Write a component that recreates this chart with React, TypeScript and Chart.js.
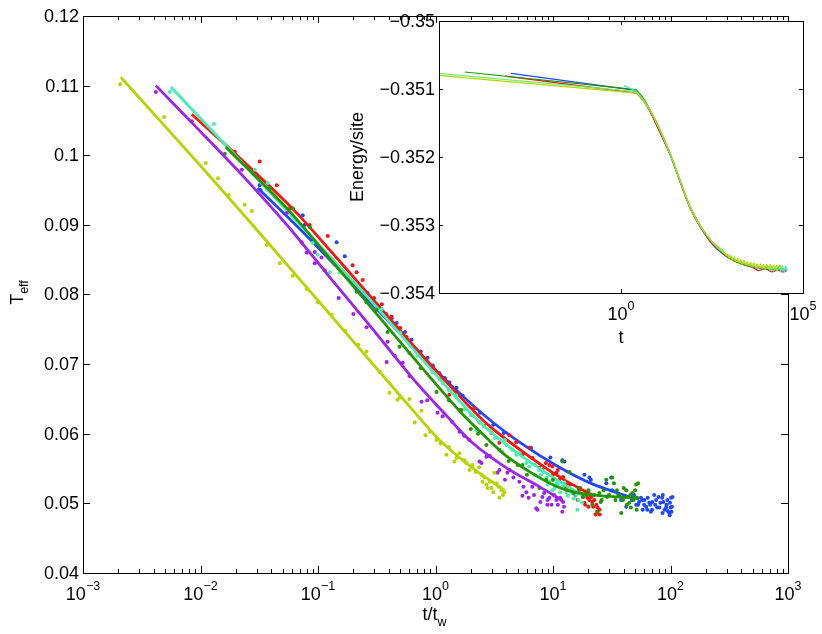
import { useEffect, useRef } from "react"
import { Chart, registerables } from "chart.js"
import type { Plugin } from "chart.js"

Chart.register(...registerables)

const FONT = '"Liberation Sans", Arial, Helvetica, sans-serif'

// ---- main plot: T_eff vs t/t_w (dots = measurements, thick lines = fits) ----
const yellowDots: [number, number][] = [
  [0.00207, 0.1102], [0.0049, 0.1055], [0.0111, 0.0989], [0.0141, 0.0967], [0.0174, 0.0943],
  [0.0238, 0.0929], [0.0273, 0.092], [0.0366, 0.0871], [0.0473, 0.0845], [0.061, 0.0827],
  [0.08, 0.0808], [0.1, 0.0789], [0.1306, 0.0771], [0.17, 0.0748], [0.22, 0.0728],
  [0.259, 0.0718], [0.334, 0.0689], [0.406, 0.0659], [0.475, 0.0649], [0.5, 0.0652],
  [0.601, 0.065], [0.664, 0.0616], [0.76, 0.0633], [0.822, 0.0598], [0.9, 0.0603],
  [1.02, 0.0591], [1.1, 0.0586], [1.24, 0.057], [1.3, 0.0581], [1.45, 0.056],
  [1.51, 0.0565], [1.6, 0.0572], [1.76, 0.0562], [1.83, 0.0558], [1.95, 0.0548],
  [2.06, 0.0555], [2.2, 0.0545], [2.35, 0.0552], [2.46, 0.0541], [2.51, 0.0531],
  [2.6, 0.0537], [2.71, 0.0527], [2.77, 0.0522], [2.9, 0.0531], [2.99, 0.0522],
  [3.1, 0.0516], [3.17, 0.0544], [3.3, 0.0529], [3.45, 0.0524], [3.5, 0.0508],
  [3.64, 0.0519], [3.75, 0.0512], [3.86, 0.0516],
]
const yellowFit: [number, number][] = [
  [0.0021, 0.1112], [0.00986, 0.0986], [0.0301, 0.0893], [0.1256, 0.0772], [0.334, 0.0689],
  [0.703, 0.0626], [1.08, 0.0591], [2.06, 0.0551], [3.86, 0.0519],
]

const purpleDots: [number, number][] = [
  [0.00417, 0.1091], [0.0225, 0.0979], [0.0542, 0.0917], [0.0726, 0.0875], [0.0801, 0.086],
  [0.0938, 0.0845], [0.114, 0.0835], [0.0938, 0.0861], [0.107, 0.0853], [0.15, 0.0795],
  [0.2, 0.0772], [0.259, 0.0753], [0.384, 0.0703], [0.391, 0.0732], [0.45, 0.0712],
  [0.525, 0.0702], [0.6, 0.0683], [0.76, 0.0646], [0.85, 0.0648], [1.04, 0.063],
  [1.15, 0.0625], [1.39, 0.0617], [1.6, 0.0603], [1.75, 0.0597], [1.94, 0.0591],
  [2.37, 0.056], [2.46, 0.0558], [2.71, 0.0567], [2.9, 0.0568], [3.37, 0.0544],
  [3.5, 0.0548], [3.9, 0.0534], [4.09, 0.0544], [4.26, 0.0548], [4.6, 0.0537],
  [5.17, 0.0531], [5.49, 0.0511], [5.6, 0.0524], [5.93, 0.0516], [6.2, 0.0508],
  [6.67, 0.0524], [6.9, 0.0512], [7.21, 0.0493], [7.36, 0.0491], [7.8, 0.0502],
  [8.12, 0.0509], [8.4, 0.0515], [8.95, 0.0498], [9.0, 0.0505], [9.31, 0.0508],
  [9.7, 0.0498], [10.2, 0.0512], [10.7, 0.0505], [11.0, 0.0498], [11.5, 0.0508],
  [11.8, 0.0505], [12.0, 0.0488], [12.2, 0.0502], [12.4, 0.0495],
]
const purpleFit: [number, number][] = [
  [0.00417, 0.11], [0.00986, 0.1035], [0.0216, 0.0975], [0.0412, 0.0923], [0.061, 0.089],
  [0.1256, 0.0825], [0.259, 0.0761], [0.637, 0.068], [1.24, 0.0626], [2.06, 0.0587],
  [4.01, 0.0551], [7.65, 0.0524], [12.0, 0.0504],
]

const aquaDots: [number, number][] = [
  [0.00548, 0.1091], [0.013, 0.1045], [0.029, 0.0979], [0.0373, 0.096], [0.0542, 0.0924],
  [0.0901, 0.0874], [0.0993, 0.0857], [0.126, 0.0832], [0.144, 0.084], [0.153, 0.0832],
  [0.35, 0.0779], [0.5, 0.0745], [0.7, 0.0712], [0.95, 0.0688], [1.15, 0.0673],
  [1.3, 0.0662], [1.5, 0.0655], [1.8, 0.0635], [2.0, 0.0627], [2.23, 0.0605],
  [2.37, 0.0617], [2.6, 0.061], [2.88, 0.0605], [3.2, 0.0594], [3.71, 0.0574],
  [3.9, 0.0591], [4.01, 0.0584], [4.5, 0.0577], [4.88, 0.057], [5.2, 0.0572],
  [5.93, 0.0558], [6.3, 0.0553], [6.94, 0.0541], [7.0, 0.0556], [7.65, 0.0548],
  [7.9, 0.0541], [8.3, 0.0545], [8.77, 0.0537], [9.0, 0.0527], [9.31, 0.0531],
  [9.87, 0.0519], [10.0, 0.0534], [10.3, 0.0522], [10.7, 0.0529], [11.0, 0.0527],
  [11.5, 0.0516], [12.0, 0.0524], [12.5, 0.053], [13.0, 0.0516], [13.4, 0.0511],
  [13.8, 0.0519], [14.5, 0.0515], [15.0, 0.0507], [15.8, 0.0512], [16.1, 0.0491],
  [16.5, 0.0505], [17.0, 0.0515], [17.7, 0.0501],
]
const aquaFit: [number, number][] = [
  [0.0056, 0.1098], [0.0216, 0.0993], [0.0741, 0.0896], [0.259, 0.0798], [0.889, 0.0695],
  [2.37, 0.0617], [5.49, 0.0567], [13.0, 0.0525], [17.7, 0.0512],
]

const greenDots: [number, number][] = [
  [0.0161, 0.1002], [0.0388, 0.0953], [0.061, 0.0924], [0.085, 0.0897], [0.213, 0.0804],
  [0.259, 0.0789], [0.315, 0.0778], [0.391, 0.0746], [0.494, 0.0725], [0.6, 0.0716],
  [0.75, 0.0694], [1.02, 0.066], [1.3, 0.0648], [1.66, 0.0634], [2.0, 0.0607],
  [2.3, 0.06], [2.71, 0.0584], [3.5, 0.0577], [4.2, 0.0561], [5.0, 0.0555],
  [5.5, 0.0555], [6.0, 0.0541], [7.65, 0.0522], [8.77, 0.0534], [10.0, 0.0534],
  [12.0, 0.056], [13.8, 0.0545], [15.0, 0.0515], [16.5, 0.0522], [18.0, 0.0509],
  [19.2, 0.0512], [20.0, 0.0519], [21.6, 0.0498], [22.5, 0.0512], [23.8, 0.0488],
  [24.8, 0.0515], [25.5, 0.0502], [26.0, 0.0505], [27.0, 0.0519], [28.4, 0.0534],
  [28.9, 0.0509], [30.0, 0.0512], [31.9, 0.0537], [33.0, 0.0529], [34.0, 0.0505],
  [35.0, 0.0519], [36.5, 0.0512], [38.1, 0.0486], [39.5, 0.0505], [40.0, 0.0522],
  [42.0, 0.0519], [42.5, 0.0498], [44.6, 0.0501], [45.5, 0.0512], [46.0, 0.0494],
  [47.2, 0.0515], [48.5, 0.0505], [50.0, 0.0519], [51.0, 0.0527], [51.5, 0.0491],
  [52.0, 0.0508], [53.0, 0.0529],
]
const greenFit: [number, number][] = [
  [0.0164, 0.1012], [0.0542, 0.0924], [0.1256, 0.0852], [0.275, 0.0784], [0.889, 0.0682],
  [1.7, 0.0628], [2.88, 0.059], [4.01, 0.0568], [7.65, 0.0537], [13.0, 0.0519],
  [24.8, 0.0511], [51.0, 0.0508],
]

const redDots: [number, number][] = [
  [0.00843, 0.1049], [0.0196, 0.1005], [0.0319, 0.0991], [0.0446, 0.0957], [0.0574, 0.0924],
  [0.085, 0.09], [0.121, 0.0884], [0.197, 0.0842], [0.213, 0.0832], [0.24, 0.0821],
  [0.3, 0.0795], [0.35, 0.0786], [0.423, 0.0768], [0.5, 0.0752], [0.567, 0.0739],
  [0.69, 0.0718], [0.8, 0.0708], [0.95, 0.0695], [1.1, 0.0678], [1.31, 0.0656],
  [1.6, 0.0634], [1.8, 0.0636], [2.14, 0.0637], [2.37, 0.0616], [2.6, 0.0611],
  [3.0, 0.0601], [3.5, 0.0587], [4.26, 0.0598], [4.88, 0.0588], [5.5, 0.057],
  [6.3, 0.058], [6.67, 0.0565], [7.65, 0.0551], [8.12, 0.0548], [8.7, 0.0558],
  [9.31, 0.0555], [9.87, 0.0553], [10.0, 0.0541], [10.7, 0.0544], [11.0, 0.0548],
  [11.3, 0.0534], [12.2, 0.0538], [12.9, 0.0524], [13.2, 0.0529], [13.5, 0.0522],
  [14.0, 0.0527], [14.6, 0.0519], [15.5, 0.0512], [16.2, 0.0505], [16.7, 0.0519],
  [17.0, 0.0522], [17.7, 0.0512], [18.0, 0.0509], [18.5, 0.0501], [18.8, 0.0498],
  [19.2, 0.0516], [19.6, 0.0508], [20.0, 0.0495], [20.4, 0.0505], [20.8, 0.0512],
  [21.2, 0.0509], [21.6, 0.0502], [22.0, 0.0495], [22.5, 0.0505], [23.0, 0.0484],
  [23.4, 0.0498], [23.8, 0.0488], [24.0, 0.0494], [24.8, 0.0491], [25.0, 0.0484],
]
const redFit: [number, number][] = [
  [0.00843, 0.1059], [0.0216, 0.0996], [0.061, 0.0923], [0.1256, 0.0864], [0.226, 0.0815],
  [0.601, 0.0733], [1.6, 0.0654], [2.88, 0.0611], [7.65, 0.0557], [13.0, 0.0532],
  [21.6, 0.0512],
]

const blueDots: [number, number][] = [
  [0.0319, 0.0957], [0.0325, 0.095], [0.077, 0.09], [0.0741, 0.0914], [0.144, 0.0875],
  [0.169, 0.0855], [0.264, 0.0802], [0.315, 0.0778], [0.38, 0.0772], [0.423, 0.0766],
  [0.467, 0.0759], [0.55, 0.0746], [0.625, 0.0735], [0.703, 0.0716], [0.75, 0.0718],
  [0.855, 0.0709], [0.95, 0.0698], [1.08, 0.0687], [1.2, 0.068], [1.31, 0.0674],
  [1.51, 0.0666], [1.7, 0.0655], [2.02, 0.0627], [2.4, 0.063], [3.1, 0.0613],
  [3.8, 0.0601], [4.88, 0.0588], [6.5, 0.058], [9.5, 0.0566], [12.0, 0.0562],
  [12.5, 0.056], [18.5, 0.0541], [20.4, 0.0537], [21.0, 0.0534], [28.4, 0.0529],
  [31.3, 0.0537], [31.9, 0.0519], [36.0, 0.0512], [38.0, 0.0505], [42.0, 0.0495],
  [44.0, 0.0509], [47.0, 0.0505], [49.0, 0.0512], [51.0, 0.0498], [53.0, 0.0498],
  [54.0, 0.0502], [56.0, 0.0508], [57.4, 0.0505], [58.0, 0.0491], [59.6, 0.0498],
  [60.0, 0.0505], [62.1, 0.0495], [63.4, 0.0491], [64.0, 0.0508], [65.9, 0.0501],
  [67.0, 0.0498], [68.0, 0.0488], [69.8, 0.0491], [70.0, 0.0502], [72.6, 0.0512],
  [74.0, 0.0498], [75.5, 0.0505], [77.0, 0.0494], [79.0, 0.0509], [80.3, 0.0494],
  [82.0, 0.0501], [84.9, 0.0508], [85.5, 0.0486], [86.0, 0.0512], [87.0, 0.0502],
  [89.0, 0.0491], [91.8, 0.0494], [92.5, 0.0498], [94.0, 0.0505], [95.0, 0.0489],
  [97.5, 0.0486], [98.5, 0.0483], [99.0, 0.0501], [100.0, 0.0494], [101.0, 0.0508],
  [102.0, 0.0488], [103.0, 0.0495], [104.0, 0.0509],
]
const blueFit: [number, number][] = [
  [0.0307, 0.0953], [0.0741, 0.089], [0.321, 0.0778], [1.08, 0.0686], [2.71, 0.0624],
  [5.49, 0.0585], [11.3, 0.0552], [21.6, 0.0528], [42.0, 0.0511], [54.0, 0.0506],
]

const mainXExponents = ["−3", "−2", "−1", "0", "1", "2", "3"]
const mainXTicks = [1e-3, 1e-2, 1e-1, 1, 10, 100, 1000]
const mainYTicks = [0.04, 0.05, 0.06, 0.07, 0.08, 0.09, 0.1, 0.11, 0.12]
const mainYLabels = ["0.04", "0.05", "0.06", "0.07", "0.08", "0.09", "0.1", "0.11", "0.12"]

// ---- inset: energy per site vs t (first pair = straight early part up to the knee) ----
const insetBlue: [number, number][] = [
  [9.5e-4, -0.35077], [2.6, -0.35102], [4.2, -0.35116], [6.2, -0.35132], [11.5, -0.35162],
  [22, -0.35196], [42, -0.35236], [78, -0.35274], [150, -0.35302], [330, -0.35328],
  [800, -0.35345], [1800, -0.35355], [3500, -0.35361], [7000, -0.35364], [15000, -0.35366],
  [36000, -0.35366],
]
const insetRed: [number, number][] = [
  [6.5e-4, -0.35081], [2.7, -0.35106], [4.3, -0.35119], [6.4, -0.35134], [12, -0.35165],
  [23, -0.35198], [43, -0.35238], [80, -0.35276], [150, -0.35303], [340, -0.3533],
  [820, -0.35347], [1900, -0.35357], [4000, -0.35362], [6000, -0.35367], [9000, -0.35364],
  [14000, -0.35369], [20000, -0.35366], [27000, -0.35369], [36000, -0.35367],
]
const insetGreen: [number, number][] = [
  [5.1e-5, -0.35075], [2.6, -0.35101], [4.2, -0.35114], [6.2, -0.3513], [11.8, -0.3516],
  [22, -0.35194], [41, -0.35233], [78, -0.35272], [148, -0.353], [335, -0.35327],
  [800, -0.35346], [1850, -0.35356], [3800, -0.35361], [8000, -0.35364], [17000, -0.35365],
  [30000, -0.35365],
]
const insetLightGreen: [number, number][] = [
  [1e-5, -0.35077], [2.7, -0.35104], [4.3, -0.35117], [6.3, -0.35131], [11.8, -0.3516],
  [22.2, -0.35194], [42, -0.35234], [79, -0.35273], [148, -0.353], [337, -0.35326],
  [817, -0.35344], [1860, -0.35354], [6600, -0.35362], [30000, -0.35365],
]
const insetAqua: [number, number][] = [
  [1.2, -0.35095], [2.6, -0.35103], [6.3, -0.35132], [11.8, -0.35161], [22, -0.35195],
  [42, -0.35235], [79, -0.35274], [148, -0.35301], [337, -0.35327], [817, -0.35345],
  [1860, -0.35355], [4000, -0.3536], [8000, -0.35363], [11000, -0.35361], [12500, -0.35367],
  [14000, -0.35361], [15500, -0.35368], [17500, -0.35361], [19500, -0.35368], [22000, -0.3536],
  [24500, -0.35369], [27500, -0.3536], [30500, -0.35369], [33500, -0.3536], [36300, -0.35368],
]
const insetYellow: [number, number][] = [
  [1e-5, -0.3508], [2.75, -0.35106], [4.4, -0.35119], [6.26, -0.35131], [11.8, -0.35161],
  [22.2, -0.35194], [41.8, -0.35234], [78.6, -0.35274], [148, -0.353], [337, -0.35326],
  [600, -0.35336], [700, -0.35341], [780, -0.35345], [850, -0.35343], [950, -0.35349],
  [1050, -0.35345], [1150, -0.35352], [1300, -0.35347], [1450, -0.35354], [1600, -0.35349],
  [1750, -0.35356], [1950, -0.35351], [2150, -0.35358], [2400, -0.35352], [2650, -0.35359],
  [2950, -0.35354], [3250, -0.3536], [3600, -0.35355], [4000, -0.35362], [4450, -0.35356],
  [4950, -0.35363], [5500, -0.35357], [6100, -0.35364], [6800, -0.35357], [7500, -0.35364],
  [8300, -0.35358], [9200, -0.35365], [10200, -0.35358], [11300, -0.35365], [12500, -0.35358],
  [13800, -0.35365], [15300, -0.35359], [17000, -0.35366], [18800, -0.35359], [20800, -0.35365],
  [23000, -0.35359], [25000, -0.35364],
]

const insetXExponents = ["0", "5"]
const insetXTicks = [1, 1e5]
const insetYTicks = [-0.35, -0.351, -0.352, -0.353, -0.354]
const insetYLabels = ["−0.35", "−0.351", "−0.352", "−0.353", "−0.354"]

const YELLOW = "#b5d400"
const PURPLE = "#a020f0"
const AQUA = "#44f0b0"
const GREEN = "#229600"
const RED = "#ff1010"
const BLUE = "#2046ff"
const LIGHT_GREEN = "#70ee70"

const toXY = (arr: [number, number][]) => arr.map(([x, y]) => ({ x, y }))

function dots(data: [number, number][], color: string) {
  return {
    data: toXY(data),
    showLine: false,
    pointRadius: 2,
    pointBorderWidth: 0,
    pointBackgroundColor: color,
    backgroundColor: color,
    borderColor: color,
  }
}

function fit(data: [number, number][], color: string, width: number, tension: number) {
  return {
    data: toXY(data),
    showLine: true,
    pointRadius: 0,
    borderWidth: width,
    borderColor: color,
    backgroundColor: color,
    tension,
    fill: false,
  }
}

// inset curves: a straight early segment, then a smooth drop
function insetCurve(data: [number, number][], color: string) {
  return [fit(data.slice(1), color, 1.2, 0.3), fit(data.slice(0, 2), color, 1.2, 0)]
}

function drawPower(ctx: CanvasRenderingContext2D, cx: number, baseline: number, exp: string) {
  ctx.font = `18px ${FONT}`
  const wb = ctx.measureText("10").width
  ctx.font = `12.5px ${FONT}`
  const we = ctx.measureText(exp).width
  const x0 = cx - (wb + we) / 2
  ctx.textAlign = "left"
  ctx.textBaseline = "alphabetic"
  ctx.font = `18px ${FONT}`
  ctx.fillText("10", x0, baseline)
  ctx.font = `12.5px ${FONT}`
  ctx.fillText(exp, x0 + wb, baseline - 10)
}

function minorLogTicks(lo: number, hi: number) {
  const out: number[] = []
  for (let e = lo; e < hi; e++) {
    for (let k = 2; k <= 9; k++) out.push(k * Math.pow(10, e))
  }
  return out
}

type Area = { left: number; right: number; top: number; bottom: number }

interface AxesSpec {
  xTicks: number[]
  xExps: string[]
  xMinor: number[]
  yTicks: number[]
  yLabels: string[]
  majorLen: number
  minorLen: number
  white: boolean
  titles: (ctx: CanvasRenderingContext2D, area: Area) => void
}

function axesPlugin(id: string, spec: AxesSpec): Plugin<"scatter"> {
  return {
    id,
    beforeDatasetsDraw(chart) {
      if (!spec.white) return
      const { ctx, chartArea } = chart
      ctx.save()
      ctx.fillStyle = "#ffffff"
      ctx.fillRect(chartArea.left, chartArea.top, chartArea.right - chartArea.left, chartArea.bottom - chartArea.top)
      ctx.restore()
    },
    afterDraw(chart) {
      const { ctx, chartArea } = chart
      const { left, right, top, bottom } = chartArea
      const xs = chart.scales.x
      const ys = chart.scales.y
      ctx.save()
      ctx.strokeStyle = "#000"
      ctx.lineWidth = 1
      ctx.strokeRect(left + 0.5, top + 0.5, right - left, bottom - top)
      ctx.beginPath()
      const vTick = (v: number, len: number) => {
        const px = Math.round(xs.getPixelForValue(v)) + 0.5
        ctx.moveTo(px, bottom)
        ctx.lineTo(px, bottom - len)
        ctx.moveTo(px, top)
        ctx.lineTo(px, top + len)
      }
      spec.xTicks.forEach((v) => vTick(v, spec.majorLen))
      spec.xMinor.forEach((v) => vTick(v, spec.minorLen))
      spec.yTicks.forEach((v) => {
        const py = Math.round(ys.getPixelForValue(v)) + 0.5
        ctx.moveTo(left, py)
        ctx.lineTo(left + spec.majorLen, py)
        ctx.moveTo(right, py)
        ctx.lineTo(right - spec.majorLen, py)
      })
      ctx.stroke()

      ctx.fillStyle = "#000"
      spec.xTicks.forEach((v, i) => drawPower(ctx, xs.getPixelForValue(v), bottom + 27, spec.xExps[i]))
      ctx.font = `18px ${FONT}`
      ctx.textAlign = "right"
      ctx.textBaseline = "middle"
      spec.yTicks.forEach((v, i) => ctx.fillText(spec.yLabels[i], left - 4, ys.getPixelForValue(v) + 1))
      spec.titles(ctx, chartArea)
      ctx.restore()
    },
  }
}

function mainTitles(ctx: CanvasRenderingContext2D, a: Area) {
  // x title t/t_w
  ctx.textAlign = "left"
  ctx.textBaseline = "alphabetic"
  ctx.font = `18px ${FONT}`
  const w1 = ctx.measureText("t/t").width
  ctx.font = `12.5px ${FONT}`
  const w2 = ctx.measureText("w").width
  const cx = (a.left + a.right) / 2 - 1
  const x0 = cx - (w1 + w2) / 2
  ctx.font = `18px ${FONT}`
  ctx.fillText("t/t", x0, a.bottom + 47)
  ctx.font = `12.5px ${FONT}`
  ctx.fillText("w", x0 + w1, a.bottom + 53)

  // y title T_eff
  ctx.save()
  ctx.translate(a.left - 60, (a.top + a.bottom) / 2 - 2)
  ctx.rotate(-Math.PI / 2)
  ctx.font = `18px ${FONT}`
  const t1 = ctx.measureText("T").width
  ctx.font = `12.5px ${FONT}`
  const t2 = ctx.measureText("eff").width
  const s = -(t1 + t2) / 2
  ctx.font = `18px ${FONT}`
  ctx.fillText("T", s, 0)
  ctx.font = `12.5px ${FONT}`
  ctx.fillText("eff", s + t1, 5)
  ctx.restore()
}

function insetTitles(ctx: CanvasRenderingContext2D, a: Area) {
  ctx.font = `18px ${FONT}`
  ctx.textAlign = "center"
  ctx.textBaseline = "alphabetic"
  ctx.fillText("t", (a.left + a.right) / 2, a.bottom + 50)
  ctx.save()
  ctx.translate(a.left - 76, (a.top + a.bottom) / 2)
  ctx.rotate(-Math.PI / 2)
  ctx.fillText("Energy/site", 0, 0)
  ctx.restore()
}

export default function App() {
  const mainRef = useRef<HTMLCanvasElement | null>(null)
  const insetRef = useRef<HTMLCanvasElement | null>(null)

  useEffect(() => {
    if (!mainRef.current || !insetRef.current) return

    const main = new Chart(mainRef.current, {
      type: "scatter",
      data: {
        datasets: [
          fit(yellowFit, YELLOW, 2.8, 0.3),
          dots(yellowDots, YELLOW),
          fit(purpleFit, PURPLE, 2.8, 0.3),
          dots(purpleDots, PURPLE),
          fit(greenFit, GREEN, 2.8, 0.3),
          dots(greenDots, GREEN),
          fit(aquaFit, AQUA, 2.8, 0.3),
          dots(aquaDots, AQUA),
          fit(redFit, RED, 2.8, 0.3),
          dots(redDots, RED),
          fit(blueFit, BLUE, 2.8, 0.3),
          dots(blueDots, BLUE),
        ],
      },
      options: {
        responsive: false,
        animation: false,
        events: [],
        layout: { padding: { left: 83, right: 34, top: 16, bottom: 61 } },
        plugins: { legend: { display: false }, tooltip: { enabled: false } },
        scales: {
          x: { type: "logarithmic", min: 1e-3, max: 1e3, display: false },
          y: { type: "linear", min: 0.04, max: 0.12, display: false },
        },
      },
      plugins: [
        axesPlugin("mainAxes", {
          xTicks: mainXTicks,
          xExps: mainXExponents,
          xMinor: minorLogTicks(-3, 3),
          yTicks: mainYTicks,
          yLabels: mainYLabels,
          majorLen: 7,
          minorLen: 4,
          white: false,
          titles: mainTitles,
        }),
      ],
    })

    const inset = new Chart(insetRef.current, {
      type: "scatter",
      data: {
        datasets: [
          ...insetCurve(insetYellow, YELLOW),
          ...insetCurve(insetAqua, AQUA),
          ...insetCurve(insetLightGreen, LIGHT_GREEN),
          ...insetCurve(insetGreen, GREEN),
          ...insetCurve(insetRed, RED),
          ...insetCurve(insetBlue, BLUE),
        ],
      },
      options: {
        responsive: false,
        animation: false,
        events: [],
        layout: { padding: { left: 100, right: 19, top: 21, bottom: 57 } },
        plugins: { legend: { display: false }, tooltip: { enabled: false } },
        scales: {
          x: { type: "logarithmic", min: 1e-5, max: 1e5, display: false },
          y: { type: "linear", min: -0.354, max: -0.35, display: false },
        },
      },
      plugins: [
        axesPlugin("insetAxes", {
          xTicks: insetXTicks,
          xExps: insetXExponents,
          xMinor: [],
          yTicks: insetYTicks,
          yLabels: insetYLabels,
          majorLen: 4,
          minorLen: 2,
          white: true,
          titles: insetTitles,
        }),
      ],
    })

    return () => {
      main.destroy()
      inset.destroy()
    }
  }, [])

  return (
    <div style={{ position: "absolute", left: 0, top: 0, width: 822, height: 634, background: "#fff" }}>
      <canvas ref={mainRef} width={822} height={634} style={{ position: "absolute", left: 0, top: 0 }} />
      <canvas ref={insetRef} width={483} height={350} style={{ position: "absolute", left: 339, top: 0 }} />
    </div>
  )
}
